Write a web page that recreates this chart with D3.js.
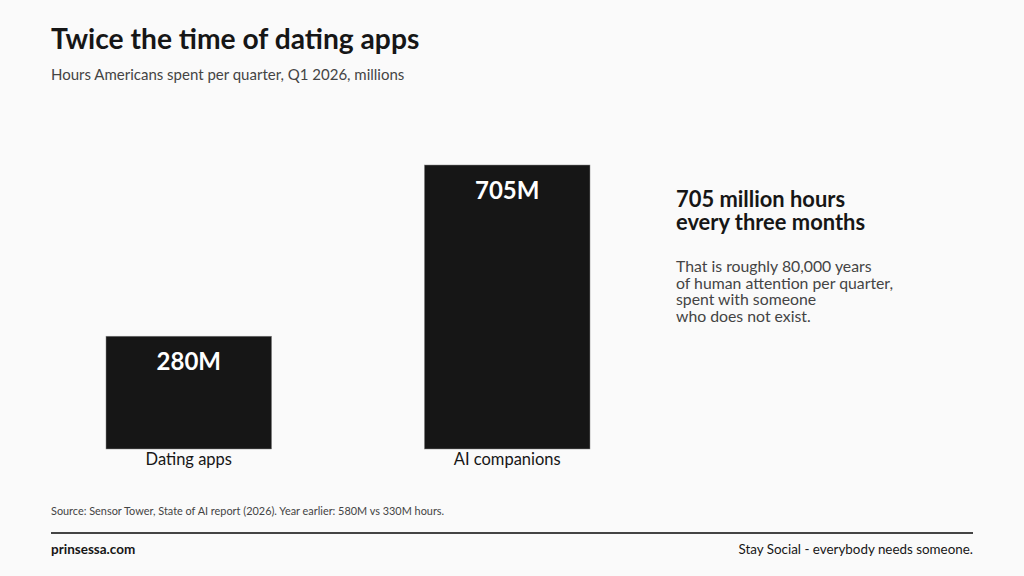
<!DOCTYPE html>
<html>
<head>
<meta charset="utf-8">
<script src="https://cdn.jsdelivr.net/npm/d3@7"></script>
<style>
  html, body { margin: 0; padding: 0; background: #fafafa; }
  svg { display: block; font-family: Lato, "Open Sans", sans-serif; }
</style>
</head>
<body>
<div id="chart"></div>
<script>
// Data
const categories = ["Dating apps", "AI companions"];
const hours = [280, 705];
const valueLabels = ["280M", "705M"];
const noteTitle = ["705 million hours", "every three months"];
const noteBody = [
    "That is roughly 80,000 years",
    "of human attention per quarter,",
    "spent with someone",
    "who does not exist."
];

const W = 1024, H = 576;

const svg = d3.select("#chart")
    .append("svg")
    .attr("width", W)
    .attr("height", H);

svg.append("rect")
    .attr("width", W)
    .attr("height", H)
    .attr("fill", "#fafafa");

// Title + subtitle
svg.append("text")
    .attr("x", 51)
    .attr("y", 49)
    .attr("font-size", 28.2)
    .attr("font-weight", 700)
    .attr("fill", "#161616")
    .text("Twice the time of dating apps");

svg.append("text")
    .attr("x", 51)
    .attr("y", 80)
    .attr("font-size", 15)
    .attr("fill", "#444")
    .text("Hours Americans spent per quarter, Q1 2026, millions");

// Scales
const x = d3.scaleBand()
    .domain(categories)
    .range([106, 590])
    .paddingInner(0.48)
    .paddingOuter(0);

const y = d3.scaleLinear()
    .domain([0, 705])
    .range([449, 165]);

const data = categories.map((c, i) => ({ key: c, value: hours[i], label: valueLabels[i] }));

const bars = svg.append("g")
    .selectAll("g")
    .data(data)
    .enter()
    .append("g");

bars.append("rect")
    .attr("x", d => x(d.key))
    .attr("y", d => y(d.value))
    .attr("width", x.bandwidth())
    .attr("height", d => y(0) - y(d.value))
    .attr("fill", "#161616")
    .attr("stroke", "#888")
    .attr("stroke-width", 0.5);

// value labels inside bars
bars.append("text")
    .attr("x", d => x(d.key) + x.bandwidth() / 2)
    .attr("y", d => y(d.value) + 34)
    .attr("text-anchor", "middle")
    .attr("font-size", 24)
    .attr("font-weight", 700)
    .attr("fill", "#fff")
    .text(d => d.label);

// category axis labels
const xAxis = d3.axisBottom(x).tickSize(0).tickPadding(0);
const axisG = svg.append("g")
    .attr("transform", `translate(0,${y(0)})`)
    .call(xAxis);
axisG.select(".domain").remove();
axisG.selectAll("text")
    .attr("dy", 0)
    .attr("y", 16)
    .attr("font-family", "Lato, sans-serif")
    .attr("font-size", 16.5)
    .attr("fill", "#161616");

// Annotation
svg.append("g")
    .selectAll("text")
    .data(noteTitle)
    .enter()
    .append("text")
    .attr("x", 676)
    .attr("y", (d, i) => 207 + i * 23)
    .attr("font-size", 21.9)
    .attr("font-weight", 700)
    .attr("fill", "#161616")
    .text(d => d);

svg.append("g")
    .selectAll("text")
    .data(noteBody)
    .enter()
    .append("text")
    .attr("x", 676)
    .attr("y", (d, i) => 272 + i * 16.7)
    .attr("font-size", 15.8)
    .attr("fill", "#444")
    .text(d => d);

// Footer
svg.append("text")
    .attr("x", 51)
    .attr("y", 515)
    .attr("font-size", 10.9)
    .attr("fill", "#444")
    .text("Source: Sensor Tower, State of AI report (2026). Year earlier: 580M vs 330M hours.");

svg.append("line")
    .attr("x1", 51)
    .attr("x2", 973)
    .attr("y1", 533)
    .attr("y2", 533)
    .attr("stroke", "#444")
    .attr("stroke-width", 2);

svg.append("text")
    .attr("x", 51)
    .attr("y", 554)
    .attr("font-size", 13.5)
    .attr("font-weight", 700)
    .attr("fill", "#161616")
    .text("prinsessa.com");

svg.append("text")
    .attr("x", 973)
    .attr("y", 554)
    .attr("text-anchor", "end")
    .attr("font-size", 13.4)
    .attr("fill", "#161616")
    .text("Stay Social - everybody needs someone.");
</script>
</body>
</html>
